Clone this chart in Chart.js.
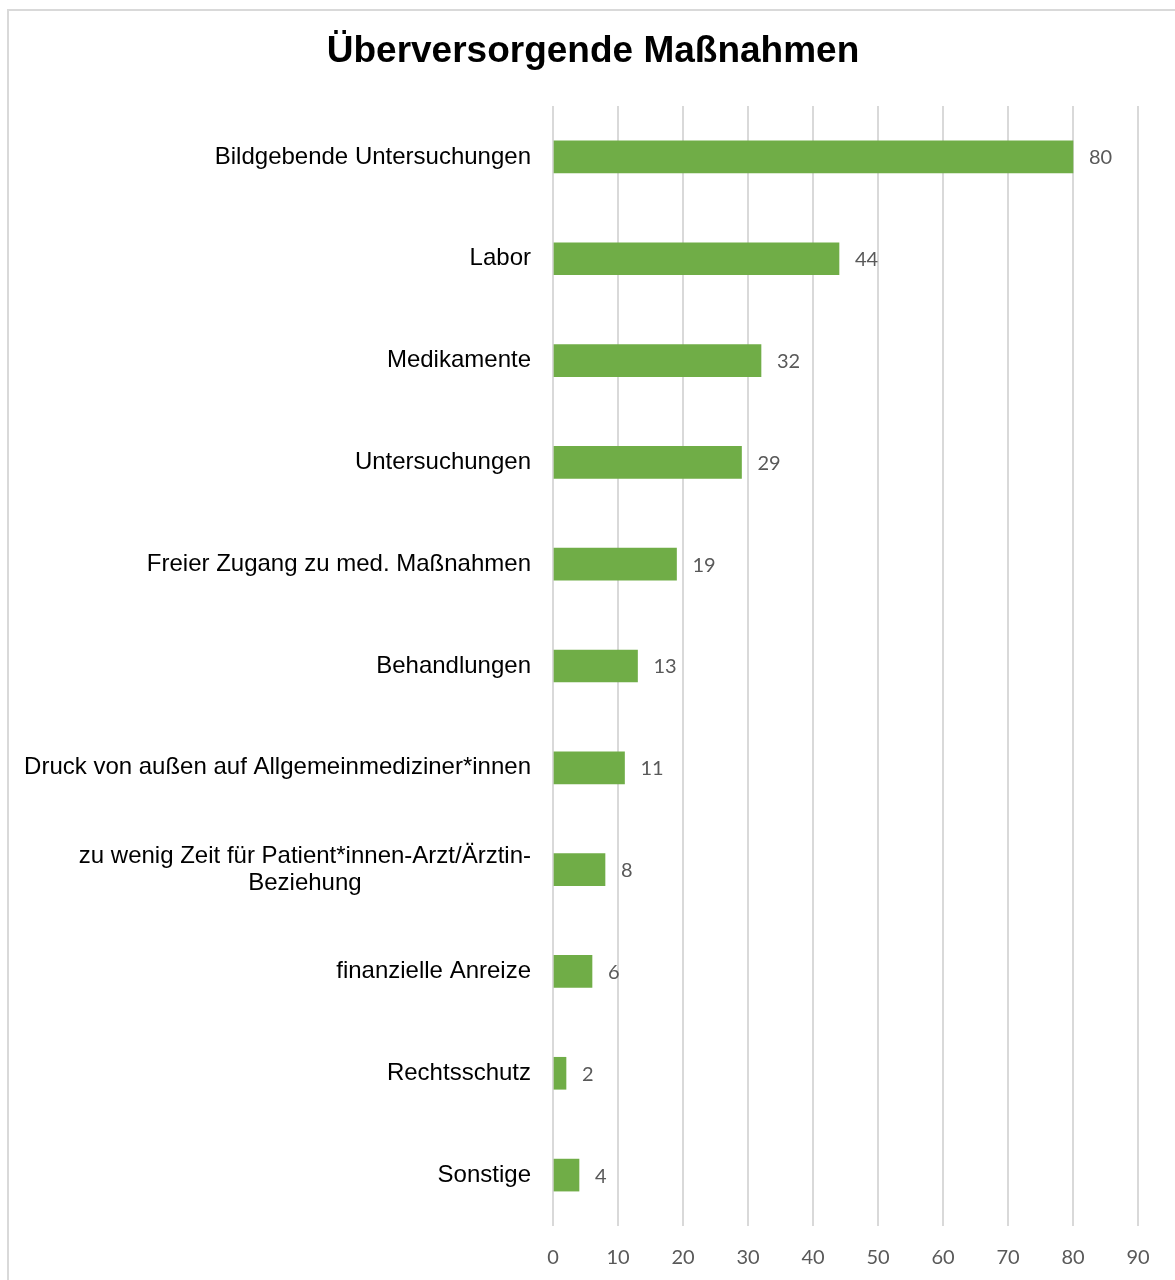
<!DOCTYPE html>
<html lang="de">
<head>
<meta charset="utf-8">
<title>Überversorgende Maßnahmen</title>
<script src="https://cdn.jsdelivr.net/npm/chart.js@4.4.1/dist/chart.umd.min.js"></script>
<style>
  html, body { margin: 0; padding: 0; background: #fff; overflow: hidden; }
  #wrap { position: relative; width: 1175px; height: 1280px; }
  #frame { position: absolute; left: 7px; top: 9px; width: 1300px; height: 1400px; border: 2px solid #d9d9d9; pointer-events: none; }
  canvas { position: absolute; left: 0; top: 0; }
</style>
</head>
<body>
<div id="wrap">
  <canvas id="chart" width="1175" height="1280"></canvas>
  <div id="frame"></div>
</div>
<script>
const TITLE = 'Überversorgende Maßnahmen';
const categories = [
  ['Bildgebende Untersuchungen'],
  ['Labor'],
  ['Medikamente'],
  ['Untersuchungen'],
  ['Freier Zugang zu med. Maßnahmen'],
  ['Behandlungen'],
  ['Druck von außen auf Allgemeinmediziner*innen'],
  ['zu wenig Zeit für Patient*innen-Arzt/Ärztin-', 'Beziehung'],
  ['finanzielle Anreize'],
  ['Rechtsschutz'],
  ['Sonstige']
];
const values = [80, 44, 32, 29, 19, 13, 11, 8, 6, 2, 4];
const xMin = 0;
const xMax = 90;
const xStep = 10;

const GREEN = '#70AD47';
const GRID = '#d9d9d9';
const TICK = '#595959';
const SANS = '"Liberation Sans", Arial, sans-serif';
const LABEL_FONT = '24px ' + SANS;
const TITLE_FONT = 'bold 37px ' + SANS;
const VALUE_FONT = '20px Lato, "Open Sans", sans-serif';

// title centred on the whole frame, not the plot
const titlePlugin = {
  id: 'titlePlugin',
  afterDraw(chart) {
    const { ctx } = chart;
    ctx.save();
    ctx.font = TITLE_FONT;
    ctx.fillStyle = '#000';
    ctx.textAlign = 'center';
    ctx.textBaseline = 'middle';
    ctx.fillText(TITLE, 593, 52);
    ctx.restore();
  }
};

// category names right-aligned, multi-line names centred inside their block
const catLabels = {
  id: 'catLabels',
  afterDraw(chart) {
    const { ctx, scales: { y, x } } = chart;
    const right = x.left - 22;
    ctx.save();
    ctx.font = LABEL_FONT;
    ctx.fillStyle = '#000';
    ctx.textBaseline = 'middle';
    ctx.textAlign = 'center';
    categories.forEach((lines, i) => {
      const cy = y.getPixelForTick(i);
      const w = Math.max(...lines.map(l => ctx.measureText(l).width));
      const lh = 27;
      const y0 = cy - (lines.length - 1) * lh / 2;
      lines.forEach((l, j) => ctx.fillText(l, right - w / 2, y0 + j * lh));
    });
    ctx.restore();
  }
};

const valueLabels = {
  id: 'valueLabels',
  afterDatasetsDraw(chart) {
    const { ctx, scales: { y, x } } = chart;
    ctx.save();
    ctx.font = VALUE_FONT;
    ctx.fillStyle = TICK;
    ctx.textBaseline = 'middle';
    ctx.textAlign = 'left';
    values.forEach((v, i) => {
      ctx.fillText(String(v), x.getPixelForValue(v) + 16, y.getPixelForTick(i) + 1);
    });
    ctx.restore();
  }
};

new Chart(document.getElementById('chart'), {
  type: 'bar',
  data: {
    labels: categories,
    datasets: [{
      data: values,
      backgroundColor: GREEN,
      borderWidth: 0,
      barThickness: 32
    }]
  },
  options: {
    indexAxis: 'y',
    responsive: false,
    animation: false,
    layout: { padding: { left: 0, right: 37, top: 106, bottom: 0 } },
    plugins: {
      legend: { display: false },
      tooltip: { enabled: false },
      title: { display: false }
    },
    scales: {
      x: {
        min: xMin,
        max: xMax,
        border: { display: false },
        grid: { color: GRID, lineWidth: 2, drawTicks: false },
        ticks: {
          stepSize: xStep,
          color: TICK,
          padding: 20,
          font: { family: 'Lato, "Open Sans", sans-serif', size: 20 }
        },
        afterFit(scale) { scale.height = 54; }
      },
      y: {
        border: { display: false },
        grid: { display: false },
        ticks: { display: false },
        afterFit(scale) { scale.width = 553; }
      }
    }
  },
  plugins: [titlePlugin, catLabels, valueLabels]
});
</script>
</body>
</html>
